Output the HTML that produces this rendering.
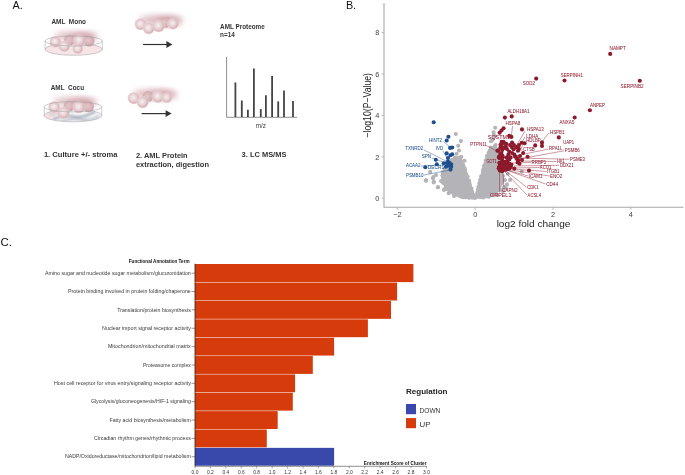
<!DOCTYPE html>
<html><head><meta charset="utf-8"><style>
html,body{margin:0;padding:0;background:#fff;width:685px;height:475px;overflow:hidden}
svg{display:block;will-change:transform}
text{font-family:"Liberation Sans", sans-serif}
</style></head><body>
<svg width="685" height="475" viewBox="0 0 685 475"><text x="12.5" y="9.2" font-size="10.8" fill="#111" font-weight="normal" text-anchor="start" >A.</text><defs>
<radialGradient id="cell" cx="0.45" cy="0.45" r="0.6">
<stop offset="0" stop-color="#f7f0f0"/><stop offset="0.5" stop-color="#e8d1d4"/><stop offset="0.85" stop-color="#d5b0b5"/><stop offset="1" stop-color="#c89ea4"/></radialGradient>
<radialGradient id="celld" cx="0.45" cy="0.45" r="0.6">
<stop offset="0" stop-color="#e2c8cb"/><stop offset="1" stop-color="#cda4a9"/></radialGradient>
<filter id="blur3" x="-50%" y="-50%" width="200%" height="200%"><feGaussianBlur stdDeviation="3"/></filter>
<filter id="blur1" x="-50%" y="-50%" width="200%" height="200%"><feGaussianBlur stdDeviation="0.8"/></filter><filter id="blur05" x="-50%" y="-50%" width="200%" height="200%"><feGaussianBlur stdDeviation="0.5"/></filter>
<linearGradient id="stroma" x1="0" y1="0" x2="1" y2="0.3">
<stop offset="0" stop-color="#dfe3ea"/><stop offset="0.3" stop-color="#b9c0cc"/><stop offset="0.5" stop-color="#eef0f4"/><stop offset="0.7" stop-color="#aeb6c4"/><stop offset="1" stop-color="#dde1e8"/></linearGradient>
</defs><ellipse cx="73.7" cy="49.3" rx="28.6" ry="6" fill="#f7e4e6" stroke="#9a9a9a" stroke-width="0.5"/><path d="M45.1,41 L45.1,49.3 M102.30000000000001,41 L102.30000000000001,49.3" stroke="#9a9a9a" stroke-width="0.5"/><ellipse cx="76" cy="36" rx="22" ry="4" fill="#cf9ca3" opacity="0.75" filter="url(#blur3)"/><ellipse cx="83.7" cy="37.5" rx="12.100000000000001" ry="3.6" fill="#c48a93" opacity="0.65" filter="url(#blur3)"/><circle cx="69.6" cy="40" r="5.5" fill="url(#celld)" filter="url(#blur05)"/><circle cx="89" cy="41" r="5.5" fill="url(#celld)" filter="url(#blur05)"/><circle cx="55.3" cy="41.8" r="5.5" fill="url(#cell)" stroke="#ecdfe1" stroke-width="0.5"/><circle cx="79.3" cy="40.5" r="6.0" fill="url(#cell)" stroke="#ecdfe1" stroke-width="0.5"/><circle cx="77.8" cy="48.7" r="5.0" fill="url(#cell)" stroke="#ecdfe1" stroke-width="0.5"/><circle cx="64.3" cy="46.2" r="5.5" fill="url(#cell)" stroke="#ecdfe1" stroke-width="0.5"/><ellipse cx="73.7" cy="41" rx="28.6" ry="5" fill="none" stroke="#9a9a9a" stroke-width="0.5"/><clipPath id="sc"><ellipse cx="73" cy="115.6" rx="28.8" ry="6.2"/></clipPath><ellipse cx="73" cy="115.6" rx="28.8" ry="6.2" fill="#f3f4f6"/><g clip-path="url(#sc)"><g filter="url(#blur1)"><ellipse cx="51" cy="115.6" rx="6" ry="4" fill="#f3dfe2"/><path d="M53,119.6 Q63,114.6 73,116.6 T95,111.6" stroke="#9ea6b4" stroke-width="2" fill="none"/><path d="M59,122.6 Q71,117.6 81,119.6 T99,115.6" stroke="#aab1bf" stroke-width="1.6" fill="none"/><path d="M49,114.6 Q57,112.6 65,113.6" stroke="#c3c9d3" stroke-width="1.5" fill="none"/></g></g><ellipse cx="73" cy="115.6" rx="28.8" ry="6.2" fill="none" stroke="#9a9a9a" stroke-width="0.5"/><path d="M44.2,106.8 L44.2,115.6 M101.8,106.8 L101.8,115.6" stroke="#9a9a9a" stroke-width="0.5"/><ellipse cx="75" cy="101.5" rx="22" ry="4" fill="#cf9ca3" opacity="0.75" filter="url(#blur3)"/><ellipse cx="82.7" cy="103.0" rx="12.100000000000001" ry="3.6" fill="#c48a93" opacity="0.65" filter="url(#blur3)"/><circle cx="69.1" cy="106" r="5.5" fill="url(#celld)" filter="url(#blur05)"/><circle cx="88.5" cy="106.8" r="5.5" fill="url(#celld)" filter="url(#blur05)"/><circle cx="54.3" cy="107.1" r="5.7" fill="url(#cell)" stroke="#ecdfe1" stroke-width="0.5"/><circle cx="78.8" cy="107.1" r="6.0" fill="url(#cell)" stroke="#ecdfe1" stroke-width="0.5"/><circle cx="63.5" cy="112.7" r="6.0" fill="url(#cell)" stroke="#ecdfe1" stroke-width="0.5"/><ellipse cx="73" cy="106.8" rx="28.8" ry="5.1" fill="none" stroke="#9a9a9a" stroke-width="0.5"/><ellipse cx="161" cy="20" rx="22" ry="4.5" fill="#cf9ca3" opacity="0.75" filter="url(#blur3)"/><ellipse cx="168.7" cy="21.5" rx="12.100000000000001" ry="4.05" fill="#c48a93" opacity="0.65" filter="url(#blur3)"/><circle cx="164.9" cy="22.6" r="5.5" fill="url(#celld)" filter="url(#blur05)"/><circle cx="140.6" cy="24.3" r="5.7" fill="url(#cell)" stroke="#ecdfe1" stroke-width="0.5"/><circle cx="148.7" cy="28.3" r="5.7" fill="url(#cell)" stroke="#ecdfe1" stroke-width="0.5"/><circle cx="158.6" cy="26" r="6.0" fill="url(#cell)" stroke="#ecdfe1" stroke-width="0.5"/><circle cx="173" cy="23.7" r="5.5" fill="url(#cell)" stroke="#ecdfe1" stroke-width="0.5"/><ellipse cx="155" cy="94" rx="22" ry="4.5" fill="#cf9ca3" opacity="0.75" filter="url(#blur3)"/><ellipse cx="162.7" cy="95.5" rx="12.100000000000001" ry="4.05" fill="#c48a93" opacity="0.65" filter="url(#blur3)"/><circle cx="147.9" cy="96.6" r="5.5" fill="url(#celld)" filter="url(#blur05)"/><circle cx="133.7" cy="98.2" r="5.8" fill="url(#cell)" stroke="#ecdfe1" stroke-width="0.5"/><circle cx="142.6" cy="102.2" r="5.8" fill="url(#cell)" stroke="#ecdfe1" stroke-width="0.5"/><circle cx="157.9" cy="96.6" r="6.0" fill="url(#cell)" stroke="#ecdfe1" stroke-width="0.5"/><circle cx="166.8" cy="97.6" r="5.0" fill="url(#cell)" stroke="#ecdfe1" stroke-width="0.5"/><line x1="142.9" y1="44.5" x2="167.4" y2="44.5" stroke="#333" stroke-width="1.2"/><path d="M166.4,41.1 L172.4,44.5 L166.4,47.9 Z" fill="#333"/><line x1="141.6" y1="113.6" x2="166.6" y2="113.6" stroke="#333" stroke-width="1.2"/><path d="M165.6,110.19999999999999 L171.6,113.6 L165.6,117.0 Z" fill="#333"/><text x="51.4" y="24.0" font-size="6.4" fill="#333" font-weight="bold" text-anchor="start" textLength="34.6" lengthAdjust="spacingAndGlyphs" >AML&#160;&#160;Mono</text><text x="50.7" y="90.2" font-size="6.4" fill="#333" font-weight="bold" text-anchor="start" textLength="33.4" lengthAdjust="spacingAndGlyphs" >AML&#160;&#160;Cocu</text><text x="220.1" y="29.3" font-size="6.3" fill="#333" font-weight="bold" text-anchor="start" textLength="44.6" lengthAdjust="spacingAndGlyphs" >AML Proteome</text><text x="220.1" y="37.4" font-size="6.3" fill="#333" font-weight="bold" text-anchor="start" textLength="14.6" lengthAdjust="spacingAndGlyphs" >n=14</text><path d="M226.6,57 L226.6,117.3 L297.1,117.3" fill="none" stroke="#8f8f8f" stroke-width="1"/><line x1="235.4" y1="82.5" x2="235.4" y2="117" stroke="#444" stroke-width="1.8"/><line x1="241.8" y1="100.5" x2="241.8" y2="117" stroke="#444" stroke-width="1.8"/><line x1="247.9" y1="109.8" x2="247.9" y2="117" stroke="#444" stroke-width="1.8"/><line x1="253.9" y1="68.6" x2="253.9" y2="117" stroke="#444" stroke-width="1.8"/><line x1="260.8" y1="109.1" x2="260.8" y2="117" stroke="#444" stroke-width="1.8"/><line x1="265.9" y1="95.2" x2="265.9" y2="117" stroke="#444" stroke-width="1.8"/><line x1="272.1" y1="76" x2="272.1" y2="117" stroke="#444" stroke-width="1.8"/><line x1="278.2" y1="101.4" x2="278.2" y2="117" stroke="#444" stroke-width="1.8"/><line x1="284" y1="90.6" x2="284" y2="117" stroke="#444" stroke-width="1.8"/><line x1="293" y1="101" x2="293" y2="117" stroke="#444" stroke-width="1.8"/><text x="255.8" y="127.8" font-size="6.3" fill="#3a3a3a" font-weight="normal" text-anchor="start" textLength="10.2" lengthAdjust="spacingAndGlyphs" >m/z</text><text x="43.9" y="157.3" font-size="6.8" fill="#333" font-weight="bold" text-anchor="start" textLength="73.6" lengthAdjust="spacingAndGlyphs" >1. Culture +/- stroma</text><text x="135.9" y="158.1" font-size="6.8" fill="#333" font-weight="bold" text-anchor="start" textLength="51.8" lengthAdjust="spacingAndGlyphs" >2. AML Protein</text><text x="135.9" y="166.5" font-size="6.8" fill="#333" font-weight="bold" text-anchor="start" textLength="73.1" lengthAdjust="spacingAndGlyphs" >extraction, digestion</text><text x="241.6" y="157.3" font-size="6.8" fill="#333" font-weight="bold" text-anchor="start" textLength="44.8" lengthAdjust="spacingAndGlyphs" >3. LC MS/MS</text><text x="345.9" y="9.3" font-size="10.8" fill="#111" font-weight="normal" text-anchor="start" >B.</text><path d="M384,3 L384,207.3 L683.5,207.3" fill="none" stroke="#a8a8a8" stroke-width="1.1"/><line x1="381.5" y1="198.3" x2="384" y2="198.3" stroke="#a8a8a8" stroke-width="0.8"/><text x="377.3" y="201.0" font-size="7.4" fill="#444" font-weight="normal" text-anchor="middle" >0</text><line x1="381.5" y1="156.9" x2="384" y2="156.9" stroke="#a8a8a8" stroke-width="0.8"/><text x="377.3" y="159.6" font-size="7.4" fill="#444" font-weight="normal" text-anchor="middle" >2</text><line x1="381.5" y1="115.5" x2="384" y2="115.5" stroke="#a8a8a8" stroke-width="0.8"/><text x="377.3" y="118.2" font-size="7.4" fill="#444" font-weight="normal" text-anchor="middle" >4</text><line x1="381.5" y1="74.1" x2="384" y2="74.1" stroke="#a8a8a8" stroke-width="0.8"/><text x="377.3" y="76.8" font-size="7.4" fill="#444" font-weight="normal" text-anchor="middle" >6</text><line x1="381.5" y1="32.7" x2="384" y2="32.7" stroke="#a8a8a8" stroke-width="0.8"/><text x="377.3" y="35.4" font-size="7.4" fill="#444" font-weight="normal" text-anchor="middle" >8</text><line x1="397.4" y1="207.3" x2="397.4" y2="209.8" stroke="#a8a8a8" stroke-width="0.8"/><text x="397.4" y="216.7" font-size="7.4" fill="#444" font-weight="normal" text-anchor="middle" >&#8722;2</text><line x1="475.2" y1="207.3" x2="475.2" y2="209.8" stroke="#a8a8a8" stroke-width="0.8"/><text x="475.2" y="216.7" font-size="7.4" fill="#444" font-weight="normal" text-anchor="middle" >0</text><line x1="553.0" y1="207.3" x2="553.0" y2="209.8" stroke="#a8a8a8" stroke-width="0.8"/><text x="553.0" y="216.7" font-size="7.4" fill="#444" font-weight="normal" text-anchor="middle" >2</text><line x1="630.8" y1="207.3" x2="630.8" y2="209.8" stroke="#a8a8a8" stroke-width="0.8"/><text x="630.8" y="216.7" font-size="7.4" fill="#444" font-weight="normal" text-anchor="middle" >4</text><text x="533.5" y="227.0" font-size="9.6" fill="#222" font-weight="normal" text-anchor="middle" textLength="73.7" lengthAdjust="spacingAndGlyphs" >log2 fold change</text><text transform="translate(370.5,105.3) rotate(-90)" font-size="10" fill="#222" text-anchor="middle" textLength="64.5" lengthAdjust="spacingAndGlyphs">&#8722;log10(P&#8722;Value)</text><polygon points="455,157.5 459,157.5 463.6,165 468.3,180 472.5,192 475,197.5 466,197.5 456,195 447.5,189.5 443.5,183 442,175.5 444.5,169 450,163" fill="#b4b4b8" stroke="#b4b4b8" stroke-width="2.6" stroke-linejoin="round"/><circle cx="454.9" cy="157.6" r="2.05" fill="#b4b4b8"/><circle cx="459.5" cy="157.5" r="2.05" fill="#b4b4b8"/><circle cx="461.3" cy="161.4" r="2.05" fill="#b4b4b8"/><circle cx="463.2" cy="165.0" r="2.05" fill="#b4b4b8"/><circle cx="464.7" cy="168.4" r="2.05" fill="#b4b4b8"/><circle cx="465.0" cy="170.8" r="2.05" fill="#b4b4b8"/><circle cx="465.9" cy="174.4" r="2.05" fill="#b4b4b8"/><circle cx="467.6" cy="176.5" r="2.05" fill="#b4b4b8"/><circle cx="468.9" cy="180.6" r="2.05" fill="#b4b4b8"/><circle cx="469.5" cy="183.1" r="2.05" fill="#b4b4b8"/><circle cx="470.0" cy="185.4" r="2.05" fill="#b4b4b8"/><circle cx="471.5" cy="188.5" r="2.05" fill="#b4b4b8"/><circle cx="472.1" cy="191.7" r="2.05" fill="#b4b4b8"/><circle cx="473.2" cy="194.7" r="2.05" fill="#b4b4b8"/><circle cx="474.9" cy="197.9" r="2.05" fill="#b4b4b8"/><circle cx="472.0" cy="197.7" r="2.05" fill="#b4b4b8"/><circle cx="469.0" cy="197.7" r="2.05" fill="#b4b4b8"/><circle cx="465.9" cy="197.2" r="2.05" fill="#b4b4b8"/><circle cx="463.3" cy="197.3" r="2.05" fill="#b4b4b8"/><circle cx="459.7" cy="196.1" r="2.05" fill="#b4b4b8"/><circle cx="455.8" cy="194.7" r="2.05" fill="#b4b4b8"/><circle cx="452.9" cy="192.7" r="2.05" fill="#b4b4b8"/><circle cx="450.7" cy="191.2" r="2.05" fill="#b4b4b8"/><circle cx="447.9" cy="189.4" r="2.05" fill="#b4b4b8"/><circle cx="446.0" cy="186.7" r="2.05" fill="#b4b4b8"/><circle cx="442.9" cy="182.7" r="2.05" fill="#b4b4b8"/><circle cx="443.2" cy="179.2" r="2.05" fill="#b4b4b8"/><circle cx="442.6" cy="175.4" r="2.05" fill="#b4b4b8"/><circle cx="442.7" cy="172.4" r="2.05" fill="#b4b4b8"/><circle cx="444.8" cy="168.7" r="2.05" fill="#b4b4b8"/><circle cx="446.8" cy="165.8" r="2.05" fill="#b4b4b8"/><circle cx="450.6" cy="163.3" r="2.05" fill="#b4b4b8"/><circle cx="452.0" cy="159.9" r="2.05" fill="#b4b4b8"/><polygon points="475.5,197.5 477,192.8 480.6,180 484.1,166.2 488.4,153 491,148 495,146.5 498,150 499,162 501,172 502,180 500,187 496,193 489,196.5 480,197.2" fill="#b4b4b8" stroke="#b4b4b8" stroke-width="2.6" stroke-linejoin="round"/><circle cx="475.0" cy="197.0" r="2.05" fill="#b4b4b8"/><circle cx="477.4" cy="192.4" r="2.05" fill="#b4b4b8"/><circle cx="478.0" cy="189.5" r="2.05" fill="#b4b4b8"/><circle cx="478.4" cy="186.7" r="2.05" fill="#b4b4b8"/><circle cx="479.3" cy="183.4" r="2.05" fill="#b4b4b8"/><circle cx="480.1" cy="179.9" r="2.05" fill="#b4b4b8"/><circle cx="481.1" cy="176.3" r="2.05" fill="#b4b4b8"/><circle cx="482.9" cy="173.5" r="2.05" fill="#b4b4b8"/><circle cx="483.0" cy="170.1" r="2.05" fill="#b4b4b8"/><circle cx="483.8" cy="166.1" r="2.05" fill="#b4b4b8"/><circle cx="485.6" cy="163.1" r="2.05" fill="#b4b4b8"/><circle cx="485.8" cy="160.2" r="2.05" fill="#b4b4b8"/><circle cx="487.0" cy="156.0" r="2.05" fill="#b4b4b8"/><circle cx="488.7" cy="152.8" r="2.05" fill="#b4b4b8"/><circle cx="490.8" cy="147.5" r="2.05" fill="#b4b4b8"/><circle cx="494.5" cy="146.6" r="2.05" fill="#b4b4b8"/><circle cx="497.7" cy="150.1" r="2.05" fill="#b4b4b8"/><circle cx="498.1" cy="152.9" r="2.05" fill="#b4b4b8"/><circle cx="499.1" cy="156.0" r="2.05" fill="#b4b4b8"/><circle cx="498.8" cy="159.4" r="2.05" fill="#b4b4b8"/><circle cx="498.6" cy="161.6" r="2.05" fill="#b4b4b8"/><circle cx="500.2" cy="165.7" r="2.05" fill="#b4b4b8"/><circle cx="500.0" cy="168.3" r="2.05" fill="#b4b4b8"/><circle cx="501.3" cy="172.5" r="2.05" fill="#b4b4b8"/><circle cx="501.1" cy="176.5" r="2.05" fill="#b4b4b8"/><circle cx="502.5" cy="180.1" r="2.05" fill="#b4b4b8"/><circle cx="500.9" cy="183.0" r="2.05" fill="#b4b4b8"/><circle cx="499.4" cy="187.6" r="2.05" fill="#b4b4b8"/><circle cx="497.7" cy="190.2" r="2.05" fill="#b4b4b8"/><circle cx="495.7" cy="193.4" r="2.05" fill="#b4b4b8"/><circle cx="492.6" cy="194.5" r="2.05" fill="#b4b4b8"/><circle cx="488.6" cy="196.8" r="2.05" fill="#b4b4b8"/><circle cx="485.5" cy="196.4" r="2.05" fill="#b4b4b8"/><circle cx="483.1" cy="197.4" r="2.05" fill="#b4b4b8"/><circle cx="480.1" cy="196.9" r="2.05" fill="#b4b4b8"/><circle cx="455.8" cy="134.0" r="2.05" fill="#b4b4b8"/><circle cx="460.9" cy="141.1" r="2.05" fill="#b4b4b8"/><circle cx="458.2" cy="145.8" r="2.05" fill="#b4b4b8"/><circle cx="459.0" cy="150.5" r="2.05" fill="#b4b4b8"/><circle cx="456.6" cy="153.7" r="2.05" fill="#b4b4b8"/><circle cx="461.3" cy="156.9" r="2.05" fill="#b4b4b8"/><circle cx="464.5" cy="160.8" r="2.05" fill="#b4b4b8"/><circle cx="430.2" cy="171.9" r="2.05" fill="#b4b4b8"/><circle cx="433.4" cy="177.1" r="2.05" fill="#b4b4b8"/><circle cx="425.8" cy="180.6" r="2.05" fill="#b4b4b8"/><circle cx="433.7" cy="181.8" r="2.05" fill="#b4b4b8"/><circle cx="438.1" cy="187.2" r="2.05" fill="#b4b4b8"/><circle cx="444.4" cy="189.2" r="2.05" fill="#b4b4b8"/><circle cx="448.7" cy="193.2" r="2.05" fill="#b4b4b8"/><circle cx="495.2" cy="127.8" r="2.05" fill="#b4b4b8"/><circle cx="493.6" cy="132.4" r="2.05" fill="#b4b4b8"/><circle cx="495.0" cy="136.0" r="2.05" fill="#b4b4b8"/><circle cx="495.6" cy="145.0" r="2.05" fill="#b4b4b8"/><circle cx="491.0" cy="141.3" r="2.05" fill="#b4b4b8"/><circle cx="492.6" cy="139.6" r="2.05" fill="#b4b4b8"/><circle cx="489.7" cy="150.6" r="2.05" fill="#b4b4b8"/><circle cx="493.7" cy="135.3" r="2.05" fill="#b4b4b8"/><circle cx="500.0" cy="180.0" r="2.05" fill="#b4b4b8"/><circle cx="507.0" cy="184.4" r="2.05" fill="#b4b4b8"/><circle cx="507.7" cy="173.8" r="2.05" fill="#b4b4b8"/><circle cx="521.7" cy="171.6" r="2.05" fill="#b4b4b8"/><circle cx="504.0" cy="187.0" r="2.05" fill="#b4b4b8"/><circle cx="498.0" cy="190.0" r="2.05" fill="#b4b4b8"/><circle cx="510.0" cy="180.0" r="2.05" fill="#b4b4b8"/><circle cx="436.0" cy="175.0" r="2.05" fill="#b4b4b8"/><circle cx="441.0" cy="181.0" r="2.05" fill="#b4b4b8"/><circle cx="452.0" cy="163.0" r="2.05" fill="#b4b4b8"/><circle cx="450.0" cy="168.0" r="2.05" fill="#b4b4b8"/><circle cx="446.0" cy="172.0" r="2.05" fill="#b4b4b8"/><circle cx="470.0" cy="196.0" r="2.05" fill="#b4b4b8"/><circle cx="462.0" cy="197.0" r="2.05" fill="#b4b4b8"/><circle cx="426.2" cy="180.4" r="2.05" fill="#b4b4b8"/><circle cx="433.0" cy="178.3" r="2.05" fill="#b4b4b8"/><circle cx="437.8" cy="187.2" r="2.05" fill="#b4b4b8"/><circle cx="444.0" cy="190.0" r="2.05" fill="#b4b4b8"/><circle cx="433.7" cy="182.4" r="2.05" fill="#b4b4b8"/><circle cx="454.0" cy="196.0" r="2.05" fill="#b4b4b8"/><circle cx="500.5" cy="176.0" r="2.05" fill="#b4b4b8"/><circle cx="502.0" cy="183.0" r="2.05" fill="#b4b4b8"/><circle cx="499.0" cy="187.0" r="2.05" fill="#b4b4b8"/><circle cx="496.0" cy="190.0" r="2.05" fill="#b4b4b8"/><circle cx="503.0" cy="176.0" r="2.05" fill="#b4b4b8"/><circle cx="505.0" cy="180.0" r="2.05" fill="#b4b4b8"/><circle cx="501.0" cy="190.0" r="2.05" fill="#b4b4b8"/><circle cx="503.0" cy="191.0" r="2.05" fill="#b4b4b8"/><circle cx="506.0" cy="188.0" r="2.05" fill="#b4b4b8"/><circle cx="497.0" cy="195.0" r="2.05" fill="#b4b4b8"/><circle cx="433.7" cy="122.2" r="2.05" fill="#1d4f8f"/><circle cx="448.4" cy="136.7" r="2.05" fill="#1d4f8f"/><circle cx="446.7" cy="140.5" r="2.05" fill="#1d4f8f"/><circle cx="450.1" cy="147.9" r="2.05" fill="#1d4f8f"/><circle cx="452.2" cy="147.5" r="2.05" fill="#1d4f8f"/><circle cx="446.7" cy="153.4" r="2.05" fill="#1d4f8f"/><circle cx="452.2" cy="154.2" r="2.05" fill="#1d4f8f"/><circle cx="450.5" cy="155.3" r="2.05" fill="#1d4f8f"/><circle cx="435.8" cy="159.7" r="2.05" fill="#1d4f8f"/><circle cx="448.0" cy="158.0" r="2.05" fill="#1d4f8f"/><circle cx="448.0" cy="161.2" r="2.05" fill="#1d4f8f"/><circle cx="443.8" cy="163.3" r="2.05" fill="#1d4f8f"/><circle cx="436.8" cy="164.3" r="2.05" fill="#1d4f8f"/><circle cx="451.2" cy="164.3" r="2.05" fill="#1d4f8f"/><circle cx="445.9" cy="166.8" r="2.05" fill="#1d4f8f"/><circle cx="448.4" cy="165.8" r="2.05" fill="#1d4f8f"/><circle cx="451.2" cy="166.8" r="2.05" fill="#1d4f8f"/><circle cx="425.3" cy="167.3" r="2.05" fill="#1d4f8f"/><circle cx="450.5" cy="169.6" r="2.05" fill="#1d4f8f"/><circle cx="447.0" cy="163.0" r="2.05" fill="#1d4f8f"/><circle cx="449.5" cy="163.0" r="2.05" fill="#1d4f8f"/><circle cx="610.2" cy="53.9" r="2.05" fill="#8c1a2c"/><circle cx="639.8" cy="80.7" r="2.05" fill="#8c1a2c"/><circle cx="536.2" cy="78.6" r="2.05" fill="#8c1a2c"/><circle cx="564.5" cy="80.5" r="2.05" fill="#8c1a2c"/><circle cx="589.9" cy="110.2" r="2.05" fill="#8c1a2c"/><circle cx="574.7" cy="117.5" r="2.05" fill="#8c1a2c"/><circle cx="558.8" cy="137.4" r="2.05" fill="#8c1a2c"/><circle cx="504.9" cy="117.6" r="2.05" fill="#8c1a2c"/><circle cx="511.7" cy="116.4" r="2.05" fill="#8c1a2c"/><circle cx="503.6" cy="128.3" r="2.05" fill="#8c1a2c"/><circle cx="501.5" cy="130.5" r="2.05" fill="#8c1a2c"/><circle cx="499.6" cy="132.7" r="2.05" fill="#8c1a2c"/><circle cx="509.2" cy="135.9" r="2.05" fill="#8c1a2c"/><circle cx="511.4" cy="136.9" r="2.05" fill="#8c1a2c"/><circle cx="522.0" cy="129.4" r="2.05" fill="#8c1a2c"/><circle cx="512.1" cy="142.5" r="2.05" fill="#8c1a2c"/><circle cx="521.7" cy="142.7" r="2.05" fill="#8c1a2c"/><circle cx="524.6" cy="143.3" r="2.05" fill="#8c1a2c"/><circle cx="501.8" cy="141.8" r="2.05" fill="#8c1a2c"/><circle cx="503.6" cy="143.0" r="2.05" fill="#8c1a2c"/><circle cx="500.7" cy="144.5" r="2.05" fill="#8c1a2c"/><circle cx="501.8" cy="146.4" r="2.05" fill="#8c1a2c"/><circle cx="506.2" cy="143.8" r="2.05" fill="#8c1a2c"/><circle cx="505.8" cy="146.4" r="2.05" fill="#8c1a2c"/><circle cx="500.3" cy="147.8" r="2.05" fill="#8c1a2c"/><circle cx="497.4" cy="150.8" r="2.05" fill="#8c1a2c"/><circle cx="511.7" cy="147.1" r="2.05" fill="#8c1a2c"/><circle cx="513.6" cy="149.3" r="2.05" fill="#8c1a2c"/><circle cx="516.2" cy="147.1" r="2.05" fill="#8c1a2c"/><circle cx="518.7" cy="148.6" r="2.05" fill="#8c1a2c"/><circle cx="518.0" cy="150.8" r="2.05" fill="#8c1a2c"/><circle cx="523.1" cy="153.0" r="2.05" fill="#8c1a2c"/><circle cx="527.6" cy="156.7" r="2.05" fill="#8c1a2c"/><circle cx="502.2" cy="150.0" r="2.05" fill="#8c1a2c"/><circle cx="501.4" cy="153.0" r="2.05" fill="#8c1a2c"/><circle cx="502.5" cy="155.9" r="2.05" fill="#8c1a2c"/><circle cx="498.8" cy="157.4" r="2.05" fill="#8c1a2c"/><circle cx="509.2" cy="151.5" r="2.05" fill="#8c1a2c"/><circle cx="508.4" cy="154.5" r="2.05" fill="#8c1a2c"/><circle cx="512.1" cy="153.0" r="2.05" fill="#8c1a2c"/><circle cx="514.3" cy="154.5" r="2.05" fill="#8c1a2c"/><circle cx="515.8" cy="156.7" r="2.05" fill="#8c1a2c"/><circle cx="510.6" cy="157.4" r="2.05" fill="#8c1a2c"/><circle cx="506.9" cy="157.4" r="2.05" fill="#8c1a2c"/><circle cx="517.3" cy="158.9" r="2.05" fill="#8c1a2c"/><circle cx="535.2" cy="145.4" r="2.05" fill="#8c1a2c"/><circle cx="542.0" cy="142.4" r="2.05" fill="#8c1a2c"/><circle cx="542.0" cy="145.9" r="2.05" fill="#8c1a2c"/><circle cx="499.6" cy="158.0" r="2.05" fill="#8c1a2c"/><circle cx="502.9" cy="157.2" r="2.05" fill="#8c1a2c"/><circle cx="506.9" cy="158.0" r="2.05" fill="#8c1a2c"/><circle cx="509.2" cy="159.4" r="2.05" fill="#8c1a2c"/><circle cx="515.0" cy="156.5" r="2.05" fill="#8c1a2c"/><circle cx="517.3" cy="158.7" r="2.05" fill="#8c1a2c"/><circle cx="518.4" cy="160.5" r="2.05" fill="#8c1a2c"/><circle cx="519.5" cy="163.8" r="2.05" fill="#8c1a2c"/><circle cx="517.6" cy="162.4" r="2.05" fill="#8c1a2c"/><circle cx="511.4" cy="164.6" r="2.05" fill="#8c1a2c"/><circle cx="514.3" cy="168.6" r="2.05" fill="#8c1a2c"/><circle cx="529.0" cy="170.5" r="2.05" fill="#8c1a2c"/><circle cx="501.9" cy="142.2" r="2.05" fill="#8c1a2c"/><circle cx="503.6" cy="141.7" r="2.05" fill="#8c1a2c"/><circle cx="500.6" cy="145.1" r="2.05" fill="#8c1a2c"/><circle cx="498.1" cy="150.6" r="2.05" fill="#8c1a2c"/><circle cx="500.2" cy="154.0" r="2.05" fill="#8c1a2c"/><circle cx="499.0" cy="156.9" r="2.05" fill="#8c1a2c"/><circle cx="501.9" cy="159.4" r="2.05" fill="#8c1a2c"/><circle cx="499.4" cy="162.8" r="2.05" fill="#8c1a2c"/><circle cx="499.8" cy="166.2" r="2.05" fill="#8c1a2c"/><circle cx="499.8" cy="170.4" r="2.05" fill="#8c1a2c"/><circle cx="504.5" cy="148.0" r="2.05" fill="#8c1a2c"/><circle cx="507.0" cy="149.0" r="2.05" fill="#8c1a2c"/><circle cx="510.0" cy="145.0" r="2.05" fill="#8c1a2c"/><circle cx="514.0" cy="145.0" r="2.05" fill="#8c1a2c"/><circle cx="519.0" cy="145.0" r="2.05" fill="#8c1a2c"/><circle cx="520.0" cy="156.0" r="2.05" fill="#8c1a2c"/><circle cx="522.0" cy="160.0" r="2.05" fill="#8c1a2c"/><circle cx="507.0" cy="165.4" r="2.05" fill="#8c1a2c"/><circle cx="507.9" cy="166.8" r="2.05" fill="#8c1a2c"/><circle cx="503.0" cy="166.9" r="2.05" fill="#8c1a2c"/><circle cx="506.3" cy="169.2" r="2.05" fill="#8c1a2c"/><circle cx="502.4" cy="165.7" r="2.05" fill="#8c1a2c"/><circle cx="500.5" cy="170.1" r="2.05" fill="#8c1a2c"/><circle cx="509.7" cy="166.0" r="2.05" fill="#8c1a2c"/><circle cx="502.7" cy="162.9" r="2.05" fill="#8c1a2c"/><circle cx="505.3" cy="167.2" r="2.05" fill="#8c1a2c"/><circle cx="510.7" cy="167.0" r="2.05" fill="#8c1a2c"/><circle cx="502.6" cy="161.8" r="2.05" fill="#8c1a2c"/><circle cx="509.6" cy="167.0" r="2.05" fill="#8c1a2c"/><circle cx="499.0" cy="167.0" r="2.05" fill="#8c1a2c"/><circle cx="501.8" cy="171.0" r="2.05" fill="#8c1a2c"/><circle cx="508.8" cy="168.2" r="2.05" fill="#8c1a2c"/><circle cx="504.0" cy="161.8" r="2.05" fill="#8c1a2c"/><circle cx="504.1" cy="162.3" r="2.05" fill="#8c1a2c"/><circle cx="506.2" cy="161.9" r="2.05" fill="#8c1a2c"/><circle cx="501.3" cy="169.8" r="2.05" fill="#8c1a2c"/><circle cx="509.4" cy="163.8" r="2.05" fill="#8c1a2c"/><circle cx="499.5" cy="168.7" r="2.05" fill="#8c1a2c"/><circle cx="507.7" cy="163.6" r="2.05" fill="#8c1a2c"/><circle cx="501.7" cy="164.3" r="2.05" fill="#8c1a2c"/><circle cx="500.1" cy="164.6" r="2.05" fill="#8c1a2c"/><circle cx="509.1" cy="168.4" r="2.05" fill="#8c1a2c"/><circle cx="510.6" cy="166.3" r="2.05" fill="#8c1a2c"/><circle cx="503.9" cy="163.4" r="2.05" fill="#8c1a2c"/><circle cx="504.0" cy="162.7" r="2.05" fill="#8c1a2c"/><circle cx="499.0" cy="168.2" r="2.05" fill="#8c1a2c"/><circle cx="509.4" cy="168.7" r="2.05" fill="#8c1a2c"/><circle cx="509.5" cy="167.2" r="2.05" fill="#8c1a2c"/><circle cx="501.4" cy="166.8" r="2.05" fill="#8c1a2c"/><circle cx="503.0" cy="163.2" r="2.05" fill="#8c1a2c"/><circle cx="499.8" cy="163.3" r="2.05" fill="#8c1a2c"/><circle cx="504.5" cy="167.0" r="2.05" fill="#8c1a2c"/><circle cx="502.8" cy="170.4" r="2.05" fill="#8c1a2c"/><circle cx="505.3" cy="168.5" r="2.05" fill="#8c1a2c"/><circle cx="508.9" cy="164.2" r="2.05" fill="#8c1a2c"/><circle cx="498.8" cy="168.2" r="2.05" fill="#8c1a2c"/><circle cx="502.0" cy="170.1" r="2.05" fill="#8c1a2c"/><circle cx="505.9" cy="169.6" r="2.05" fill="#8c1a2c"/><circle cx="506.6" cy="162.0" r="2.05" fill="#8c1a2c"/><circle cx="507.4" cy="164.4" r="2.05" fill="#8c1a2c"/><circle cx="501.3" cy="165.1" r="2.05" fill="#8c1a2c"/><circle cx="507.5" cy="169.2" r="2.05" fill="#8c1a2c"/><circle cx="507.6" cy="162.6" r="2.05" fill="#8c1a2c"/><circle cx="503.0" cy="161.8" r="2.05" fill="#8c1a2c"/><circle cx="504.1" cy="168.5" r="2.05" fill="#8c1a2c"/><circle cx="501.3" cy="167.3" r="2.05" fill="#8c1a2c"/><circle cx="505.4" cy="169.6" r="2.05" fill="#8c1a2c"/><circle cx="501.3" cy="164.0" r="2.05" fill="#8c1a2c"/><circle cx="502.1" cy="170.7" r="2.05" fill="#8c1a2c"/><circle cx="508.8" cy="166.1" r="2.05" fill="#8c1a2c"/><circle cx="505.5" cy="166.9" r="2.05" fill="#8c1a2c"/><circle cx="505.4" cy="165.8" r="2.05" fill="#8c1a2c"/><circle cx="503.2" cy="162.9" r="2.05" fill="#8c1a2c"/><circle cx="502.4" cy="170.6" r="2.05" fill="#8c1a2c"/><circle cx="506.9" cy="166.7" r="2.05" fill="#8c1a2c"/><circle cx="503.5" cy="166.7" r="2.05" fill="#8c1a2c"/><circle cx="506.0" cy="164.4" r="2.05" fill="#8c1a2c"/><circle cx="505.4" cy="167.3" r="2.05" fill="#8c1a2c"/><circle cx="501.5" cy="164.1" r="2.05" fill="#8c1a2c"/><circle cx="500.9" cy="163.6" r="2.05" fill="#8c1a2c"/><circle cx="506.7" cy="161.9" r="2.05" fill="#8c1a2c"/><circle cx="503.3" cy="164.5" r="2.05" fill="#8c1a2c"/><circle cx="501.8" cy="166.8" r="2.05" fill="#8c1a2c"/><circle cx="509.0" cy="166.7" r="2.05" fill="#8c1a2c"/><circle cx="503.9" cy="164.4" r="2.05" fill="#8c1a2c"/><circle cx="504.0" cy="169.4" r="2.05" fill="#8c1a2c"/><circle cx="503.0" cy="163.1" r="2.05" fill="#8c1a2c"/><line x1="443.5" y1="141.5" x2="450" y2="147" stroke="#1f4f8c" stroke-width="0.45"/><line x1="424" y1="150" x2="446" y2="161" stroke="#1f4f8c" stroke-width="0.45"/><line x1="443" y1="151" x2="447" y2="158" stroke="#1f4f8c" stroke-width="0.45"/><line x1="432" y1="158" x2="446" y2="163" stroke="#1f4f8c" stroke-width="0.45"/><line x1="421" y1="166" x2="444" y2="165" stroke="#1f4f8c" stroke-width="0.45"/><line x1="424" y1="175" x2="450" y2="170" stroke="#1f4f8c" stroke-width="0.45"/><text x="429.0" y="141.5" font-size="4.45" fill="#1f4f8c" stroke="#1f4f8c" stroke-width="0.04" text-anchor="start" textLength="13.1" lengthAdjust="spacingAndGlyphs">HINT2</text><text x="405.3" y="150.1" font-size="4.45" fill="#1f4f8c" stroke="#1f4f8c" stroke-width="0.04" text-anchor="start" textLength="17.9" lengthAdjust="spacingAndGlyphs">TXNRD2</text><text x="435.8" y="150.1" font-size="4.45" fill="#1f4f8c" stroke="#1f4f8c" stroke-width="0.04" text-anchor="start" textLength="7.4" lengthAdjust="spacingAndGlyphs">IVD</text><text x="421.7" y="158.3" font-size="4.45" fill="#1f4f8c" stroke="#1f4f8c" stroke-width="0.04" text-anchor="start" textLength="9.5" lengthAdjust="spacingAndGlyphs">SPN</text><text x="405.9" y="167.0" font-size="4.45" fill="#1f4f8c" stroke="#1f4f8c" stroke-width="0.04" text-anchor="start" textLength="14.7" lengthAdjust="spacingAndGlyphs">ACAA2</text><text x="427.8" y="169.1" font-size="4.45" fill="#1f4f8c" stroke="#1f4f8c" stroke-width="0.04" text-anchor="start" textLength="16.4" lengthAdjust="spacingAndGlyphs">DECR1</text><text x="405.9" y="177.3" font-size="4.45" fill="#1f4f8c" stroke="#1f4f8c" stroke-width="0.04" text-anchor="start" textLength="17.7" lengthAdjust="spacingAndGlyphs">PSMB10</text><line x1="512.5" y1="126" x2="511.5" y2="135" stroke="#8e1b2e" stroke-width="0.45"/><line x1="525" y1="131" x2="515" y2="148" stroke="#8e1b2e" stroke-width="0.45"/><line x1="525" y1="137" x2="517" y2="150" stroke="#8e1b2e" stroke-width="0.45"/><line x1="525" y1="141" x2="519" y2="152" stroke="#8e1b2e" stroke-width="0.45"/><line x1="548.8" y1="133" x2="542.5" y2="141" stroke="#8e1b2e" stroke-width="0.45"/><line x1="487" y1="146" x2="497" y2="151" stroke="#8e1b2e" stroke-width="0.45"/><line x1="522.5" y1="149.5" x2="516" y2="152" stroke="#8e1b2e" stroke-width="0.45"/><line x1="548.5" y1="149" x2="515" y2="156" stroke="#8e1b2e" stroke-width="0.45"/><line x1="564" y1="150.8" x2="514" y2="160" stroke="#8e1b2e" stroke-width="0.45"/><line x1="569.5" y1="159.2" x2="516" y2="158" stroke="#8e1b2e" stroke-width="0.45"/><line x1="556.5" y1="161.5" x2="520" y2="161" stroke="#8e1b2e" stroke-width="0.45"/><line x1="531" y1="162.3" x2="512" y2="163" stroke="#8e1b2e" stroke-width="0.45"/><line x1="559" y1="165.3" x2="514" y2="166" stroke="#8e1b2e" stroke-width="0.45"/><line x1="539.5" y1="167.5" x2="512" y2="168" stroke="#8e1b2e" stroke-width="0.45"/><line x1="546.5" y1="171.5" x2="512" y2="169" stroke="#8e1b2e" stroke-width="0.45"/><line x1="549.5" y1="176" x2="511" y2="170" stroke="#8e1b2e" stroke-width="0.45"/><line x1="528.5" y1="176" x2="510" y2="171" stroke="#8e1b2e" stroke-width="0.45"/><line x1="545.5" y1="184" x2="509" y2="171" stroke="#8e1b2e" stroke-width="0.45"/><line x1="526.5" y1="187" x2="507" y2="172" stroke="#8e1b2e" stroke-width="0.45"/><line x1="527" y1="195" x2="505" y2="172" stroke="#8e1b2e" stroke-width="0.45"/><line x1="504" y1="187.5" x2="503" y2="172" stroke="#8e1b2e" stroke-width="0.45"/><line x1="499.5" y1="192.5" x2="499.5" y2="172" stroke="#8e1b2e" stroke-width="0.45"/><text x="609.6" y="50.4" font-size="4.45" fill="#8e1b2e" stroke="#8e1b2e" stroke-width="0.04" text-anchor="start" textLength="16.1" lengthAdjust="spacingAndGlyphs">NAMPT</text><text x="620.6" y="87.5" font-size="4.45" fill="#8e1b2e" stroke="#8e1b2e" stroke-width="0.04" text-anchor="start" textLength="23.0" lengthAdjust="spacingAndGlyphs">SERPINB2</text><text x="522.8" y="85.2" font-size="4.45" fill="#8e1b2e" stroke="#8e1b2e" stroke-width="0.04" text-anchor="start" textLength="12.1" lengthAdjust="spacingAndGlyphs">SOD2</text><text x="560.7" y="77.1" font-size="4.45" fill="#8e1b2e" stroke="#8e1b2e" stroke-width="0.04" text-anchor="start" textLength="22.2" lengthAdjust="spacingAndGlyphs">SERPINH1</text><text x="589.9" y="106.6" font-size="4.45" fill="#8e1b2e" stroke="#8e1b2e" stroke-width="0.04" text-anchor="start" textLength="15.2" lengthAdjust="spacingAndGlyphs">ANPEP</text><text x="559.6" y="124.2" font-size="4.45" fill="#8e1b2e" stroke="#8e1b2e" stroke-width="0.04" text-anchor="start" textLength="14.8" lengthAdjust="spacingAndGlyphs">ANXA5</text><text x="507.4" y="113.1" font-size="4.45" fill="#8e1b2e" stroke="#8e1b2e" stroke-width="0.04" text-anchor="start" textLength="22.1" lengthAdjust="spacingAndGlyphs">ALDH18A1</text><text x="505.5" y="125.2" font-size="4.45" fill="#8e1b2e" stroke="#8e1b2e" stroke-width="0.04" text-anchor="start" textLength="14.8" lengthAdjust="spacingAndGlyphs">HSPA8</text><text x="526.9" y="131.1" font-size="4.45" fill="#8e1b2e" stroke="#8e1b2e" stroke-width="0.04" text-anchor="start" textLength="17.0" lengthAdjust="spacingAndGlyphs">HSPA13</text><text x="526.2" y="137.5" font-size="4.45" fill="#8e1b2e" stroke="#8e1b2e" stroke-width="0.04" text-anchor="start" textLength="12.0" lengthAdjust="spacingAndGlyphs">LDHA</text><text x="526.2" y="141.8" font-size="4.45" fill="#8e1b2e" stroke="#8e1b2e" stroke-width="0.04" text-anchor="start" textLength="14.5" lengthAdjust="spacingAndGlyphs">HDLBP</text><text x="549.9" y="134.1" font-size="4.45" fill="#8e1b2e" stroke="#8e1b2e" stroke-width="0.04" text-anchor="start" textLength="14.7" lengthAdjust="spacingAndGlyphs">HSPB1</text><text x="563.2" y="143.7" font-size="4.45" fill="#8e1b2e" stroke="#8e1b2e" stroke-width="0.04" text-anchor="start" textLength="10.9" lengthAdjust="spacingAndGlyphs">UAP1</text><text x="487.8" y="139.2" font-size="4.45" fill="#8e1b2e" stroke="#8e1b2e" stroke-width="0.04" text-anchor="start" textLength="22.2" lengthAdjust="spacingAndGlyphs">SQSTM1</text><text x="470.2" y="146.2" font-size="4.45" fill="#8e1b2e" stroke="#8e1b2e" stroke-width="0.04" text-anchor="start" textLength="16.6" lengthAdjust="spacingAndGlyphs">PTPN11</text><text x="523.0" y="150.7" font-size="4.45" fill="#8e1b2e" stroke="#8e1b2e" stroke-width="0.04" text-anchor="start" textLength="11.8" lengthAdjust="spacingAndGlyphs">CTSB</text><text x="549.0" y="150.2" font-size="4.45" fill="#8e1b2e" stroke="#8e1b2e" stroke-width="0.04" text-anchor="start" textLength="13.3" lengthAdjust="spacingAndGlyphs">RPA1L</text><text x="564.8" y="152.1" font-size="4.45" fill="#8e1b2e" stroke="#8e1b2e" stroke-width="0.04" text-anchor="start" textLength="15.0" lengthAdjust="spacingAndGlyphs">PSMB6</text><text x="570.1" y="160.8" font-size="4.45" fill="#8e1b2e" stroke="#8e1b2e" stroke-width="0.04" text-anchor="start" textLength="14.9" lengthAdjust="spacingAndGlyphs">PSME3</text><text x="557.1" y="163.1" font-size="4.45" fill="#8e1b2e" stroke="#8e1b2e" stroke-width="0.04" text-anchor="start" textLength="7.7" lengthAdjust="spacingAndGlyphs">HK1</text><text x="531.6" y="163.7" font-size="4.45" fill="#8e1b2e" stroke="#8e1b2e" stroke-width="0.04" text-anchor="start" textLength="14.6" lengthAdjust="spacingAndGlyphs">RRBP1</text><text x="559.9" y="167.4" font-size="4.45" fill="#8e1b2e" stroke="#8e1b2e" stroke-width="0.04" text-anchor="start" textLength="13.7" lengthAdjust="spacingAndGlyphs">DDX21</text><text x="539.8" y="169.1" font-size="4.45" fill="#8e1b2e" stroke="#8e1b2e" stroke-width="0.04" text-anchor="start" textLength="11.6" lengthAdjust="spacingAndGlyphs">ACO1</text><text x="547.1" y="173.1" font-size="4.45" fill="#8e1b2e" stroke="#8e1b2e" stroke-width="0.04" text-anchor="start" textLength="12.3" lengthAdjust="spacingAndGlyphs">ITGB1</text><text x="550.0" y="177.8" font-size="4.45" fill="#8e1b2e" stroke="#8e1b2e" stroke-width="0.04" text-anchor="start" textLength="12.3" lengthAdjust="spacingAndGlyphs">ENO2</text><text x="528.9" y="177.6" font-size="4.45" fill="#8e1b2e" stroke="#8e1b2e" stroke-width="0.04" text-anchor="start" textLength="13.5" lengthAdjust="spacingAndGlyphs">ICAM1</text><text x="546.2" y="186.4" font-size="4.45" fill="#8e1b2e" stroke="#8e1b2e" stroke-width="0.04" text-anchor="start" textLength="11.8" lengthAdjust="spacingAndGlyphs">CD44</text><text x="527.2" y="189.3" font-size="4.45" fill="#8e1b2e" stroke="#8e1b2e" stroke-width="0.04" text-anchor="start" textLength="11.4" lengthAdjust="spacingAndGlyphs">CDK1</text><text x="527.6" y="197.2" font-size="4.45" fill="#8e1b2e" stroke="#8e1b2e" stroke-width="0.04" text-anchor="start" textLength="13.5" lengthAdjust="spacingAndGlyphs">ACSL4</text><text x="502.0" y="191.5" font-size="4.45" fill="#8e1b2e" stroke="#8e1b2e" stroke-width="0.04" text-anchor="start" textLength="15.5" lengthAdjust="spacingAndGlyphs">CAPN2</text><text x="490.0" y="196.5" font-size="4.45" fill="#8e1b2e" stroke="#8e1b2e" stroke-width="0.04" text-anchor="start" textLength="21.4" lengthAdjust="spacingAndGlyphs">GRPEL1</text><text x="486.4" y="162.8" font-size="4.45" fill="#8e1b2e" stroke="#8e1b2e" stroke-width="0.04" text-anchor="start" textLength="10.3" lengthAdjust="spacingAndGlyphs">GOT1</text><text x="0.5" y="246.0" font-size="11.5" fill="#111" font-weight="normal" text-anchor="start" >C.</text><rect x="195" y="264.00" width="218.4" height="18.11" fill="#d63b0b"/><line x1="191.6" y1="273.18" x2="195" y2="273.18" stroke="#333" stroke-width="0.5"/><text x="190.8" y="274.8" font-size="4.5" fill="#3a3a3a" font-weight="normal" text-anchor="end" textLength="145.8" lengthAdjust="spacingAndGlyphs" >Amino sugar and nucleotide sugar metabolism/glucuronidation</text><rect x="195" y="282.61" width="202.1" height="17.86" fill="#d63b0b"/><line x1="191.6" y1="291.54" x2="195" y2="291.54" stroke="#333" stroke-width="0.5"/><text x="190.8" y="293.1" font-size="4.5" fill="#3a3a3a" font-weight="normal" text-anchor="end" textLength="122.7" lengthAdjust="spacingAndGlyphs" >Protein binding involved in protein folding/chaperone</text><rect x="195" y="300.97" width="196.0" height="17.86" fill="#d63b0b"/><line x1="191.6" y1="309.90" x2="195" y2="309.90" stroke="#333" stroke-width="0.5"/><text x="190.8" y="311.5" font-size="4.5" fill="#3a3a3a" font-weight="normal" text-anchor="end" textLength="73.6" lengthAdjust="spacingAndGlyphs" >Translation/protein biosynthesis</text><rect x="195" y="319.33" width="172.9" height="17.86" fill="#d63b0b"/><line x1="191.6" y1="328.26" x2="195" y2="328.26" stroke="#333" stroke-width="0.5"/><text x="190.8" y="329.9" font-size="4.5" fill="#3a3a3a" font-weight="normal" text-anchor="end" textLength="88.7" lengthAdjust="spacingAndGlyphs" >Nuclear import signal receptor activity</text><rect x="195" y="337.69" width="139.1" height="17.86" fill="#d63b0b"/><line x1="191.6" y1="346.62" x2="195" y2="346.62" stroke="#333" stroke-width="0.5"/><text x="190.8" y="348.2" font-size="4.5" fill="#3a3a3a" font-weight="normal" text-anchor="end" textLength="82.9" lengthAdjust="spacingAndGlyphs" >Mitochondrion/mitochondrial matrix</text><rect x="195" y="356.05" width="117.8" height="17.86" fill="#d63b0b"/><line x1="191.6" y1="364.98" x2="195" y2="364.98" stroke="#333" stroke-width="0.5"/><text x="190.8" y="366.6" font-size="4.5" fill="#3a3a3a" font-weight="normal" text-anchor="end" textLength="47.9" lengthAdjust="spacingAndGlyphs" >Proteasome complex</text><rect x="195" y="374.41" width="100.1" height="17.86" fill="#d63b0b"/><line x1="191.6" y1="383.34" x2="195" y2="383.34" stroke="#333" stroke-width="0.5"/><text x="190.8" y="384.9" font-size="4.5" fill="#3a3a3a" font-weight="normal" text-anchor="end" textLength="136.8" lengthAdjust="spacingAndGlyphs" >Host cell receptor for virus entry/signaling receptor activity</text><rect x="195" y="392.77" width="97.8" height="17.86" fill="#d63b0b"/><line x1="191.6" y1="401.70" x2="195" y2="401.70" stroke="#333" stroke-width="0.5"/><text x="190.8" y="403.3" font-size="4.5" fill="#3a3a3a" font-weight="normal" text-anchor="end" textLength="99.9" lengthAdjust="spacingAndGlyphs" >Glycolysis/gluconeogenesis/HIF-1 signaling</text><rect x="195" y="411.13" width="82.7" height="17.86" fill="#d63b0b"/><line x1="191.6" y1="420.06" x2="195" y2="420.06" stroke="#333" stroke-width="0.5"/><text x="190.8" y="421.7" font-size="4.5" fill="#3a3a3a" font-weight="normal" text-anchor="end" textLength="81.3" lengthAdjust="spacingAndGlyphs" >Fatty acid biosynthesis/metabolism</text><rect x="195" y="429.49" width="71.8" height="17.86" fill="#d63b0b"/><line x1="191.6" y1="438.42" x2="195" y2="438.42" stroke="#333" stroke-width="0.5"/><text x="190.8" y="440.0" font-size="4.5" fill="#3a3a3a" font-weight="normal" text-anchor="end" textLength="96.7" lengthAdjust="spacingAndGlyphs" >Circadian rhythm genes/rhythmic process</text><rect x="195" y="447.85" width="139.1" height="17.86" fill="#3949ab"/><line x1="191.6" y1="456.78" x2="195" y2="456.78" stroke="#333" stroke-width="0.5"/><text x="190.8" y="458.4" font-size="4.5" fill="#3a3a3a" font-weight="normal" text-anchor="end" textLength="125.9" lengthAdjust="spacingAndGlyphs" >NADP/Oxidoreductase/mitochondrion/lipid metabolism</text><text x="189.5" y="262.7" font-size="4.6" fill="#111" font-weight="bold" text-anchor="end" textLength="60.7" lengthAdjust="spacingAndGlyphs" >Functional Annotation Term</text><line x1="195" y1="263.8" x2="195" y2="466.3" stroke="#222" stroke-width="0.8"/><line x1="195" y1="466.3" x2="426.8" y2="466.3" stroke="#444" stroke-width="0.6"/><line x1="195.00" y1="466.3" x2="195.00" y2="468.4" stroke="#444" stroke-width="0.5"/><text x="195.0" y="473.8" font-size="4.9" fill="#333" font-weight="normal" text-anchor="middle" >0.0</text><line x1="210.43" y1="466.3" x2="210.43" y2="468.4" stroke="#444" stroke-width="0.5"/><text x="210.4" y="473.8" font-size="4.9" fill="#333" font-weight="normal" text-anchor="middle" >0.2</text><line x1="225.86" y1="466.3" x2="225.86" y2="468.4" stroke="#444" stroke-width="0.5"/><text x="225.9" y="473.8" font-size="4.9" fill="#333" font-weight="normal" text-anchor="middle" >0.4</text><line x1="241.29" y1="466.3" x2="241.29" y2="468.4" stroke="#444" stroke-width="0.5"/><text x="241.3" y="473.8" font-size="4.9" fill="#333" font-weight="normal" text-anchor="middle" >0.6</text><line x1="256.72" y1="466.3" x2="256.72" y2="468.4" stroke="#444" stroke-width="0.5"/><text x="256.7" y="473.8" font-size="4.9" fill="#333" font-weight="normal" text-anchor="middle" >0.8</text><line x1="272.15" y1="466.3" x2="272.15" y2="468.4" stroke="#444" stroke-width="0.5"/><text x="272.1" y="473.8" font-size="4.9" fill="#333" font-weight="normal" text-anchor="middle" >1.0</text><line x1="287.58" y1="466.3" x2="287.58" y2="468.4" stroke="#444" stroke-width="0.5"/><text x="287.6" y="473.8" font-size="4.9" fill="#333" font-weight="normal" text-anchor="middle" >1.2</text><line x1="303.01" y1="466.3" x2="303.01" y2="468.4" stroke="#444" stroke-width="0.5"/><text x="303.0" y="473.8" font-size="4.9" fill="#333" font-weight="normal" text-anchor="middle" >1.4</text><line x1="318.44" y1="466.3" x2="318.44" y2="468.4" stroke="#444" stroke-width="0.5"/><text x="318.4" y="473.8" font-size="4.9" fill="#333" font-weight="normal" text-anchor="middle" >1.6</text><line x1="333.87" y1="466.3" x2="333.87" y2="468.4" stroke="#444" stroke-width="0.5"/><text x="333.9" y="473.8" font-size="4.9" fill="#333" font-weight="normal" text-anchor="middle" >1.8</text><line x1="349.30" y1="466.3" x2="349.30" y2="468.4" stroke="#444" stroke-width="0.5"/><text x="349.3" y="473.8" font-size="4.9" fill="#333" font-weight="normal" text-anchor="middle" >2.0</text><line x1="364.73" y1="466.3" x2="364.73" y2="468.4" stroke="#444" stroke-width="0.5"/><text x="364.7" y="473.8" font-size="4.9" fill="#333" font-weight="normal" text-anchor="middle" >2.2</text><line x1="380.16" y1="466.3" x2="380.16" y2="468.4" stroke="#444" stroke-width="0.5"/><text x="380.2" y="473.8" font-size="4.9" fill="#333" font-weight="normal" text-anchor="middle" >2.4</text><line x1="395.59" y1="466.3" x2="395.59" y2="468.4" stroke="#444" stroke-width="0.5"/><text x="395.6" y="473.8" font-size="4.9" fill="#333" font-weight="normal" text-anchor="middle" >2.6</text><line x1="411.02" y1="466.3" x2="411.02" y2="468.4" stroke="#444" stroke-width="0.5"/><text x="411.0" y="473.8" font-size="4.9" fill="#333" font-weight="normal" text-anchor="middle" >2.8</text><line x1="426.45" y1="466.3" x2="426.45" y2="468.4" stroke="#444" stroke-width="0.5"/><text x="426.5" y="473.8" font-size="4.9" fill="#333" font-weight="normal" text-anchor="middle" >3.0</text><text x="426.5" y="464.6" font-size="4.6" fill="#111" font-weight="bold" text-anchor="end" textLength="62.7" lengthAdjust="spacingAndGlyphs" >Enrichment Score of Cluster</text><text x="406.0" y="394.2" font-size="7.8" fill="#222" font-weight="bold" text-anchor="start" textLength="41.5" lengthAdjust="spacingAndGlyphs" >Regulation</text><rect x="406" y="404" width="10" height="10.2" fill="#3949ab"/><rect x="406" y="418.1" width="10" height="10.1" fill="#d63b0b"/><text x="419.6" y="413.4" font-size="7.9" fill="#333" font-weight="normal" text-anchor="start" textLength="20.7" lengthAdjust="spacingAndGlyphs" >DOWN</text><text x="419.6" y="427.4" font-size="7.9" fill="#333" font-weight="normal" text-anchor="start" >UP</text></svg>
</body></html>
